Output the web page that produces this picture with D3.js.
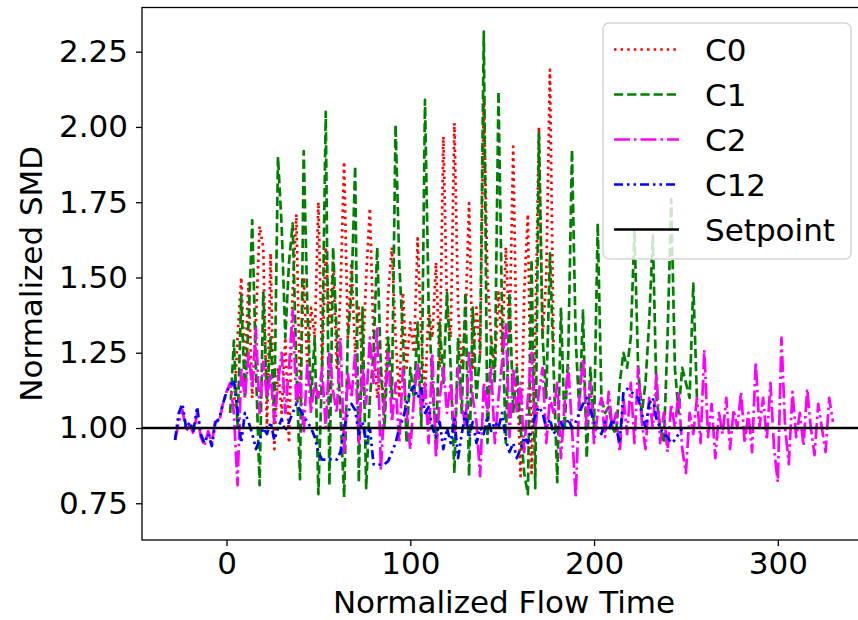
<!DOCTYPE html>
<html>
<head>
<meta charset="utf-8">
<script src="https://cdn.jsdelivr.net/npm/d3@7"></script>
<style>
  body { margin: 0; background: #fff; }
  text { font-family: 'DejaVu Sans', sans-serif; }
</style>
</head>
<body>
<div id="chart-area"></div>
<script>
// Series data (time starts at t0 and advances by step for each value)
const c0Start = 4, c0Step = 2;
const c0Values = [1.05, 1.30, 1.50, 1.20, 1.48, 1.10, 1.35, 1.67, 1.60, 1.00, 1.58, 0.93, 1.20, 1.05, 1.30, 0.95,
  1.45, 1.71, 1.10, 1.50, 1.20, 1.40, 1.30, 1.75, 1.20, 1.60, 1.35, 1.55, 1.20, 1.45, 1.885, 1.30,
  1.55, 1.25, 1.40, 1.20, 1.50, 1.73, 1.30, 1.10, 1.20, 1.05, 1.45, 1.60, 1.30, 1.10, 1.45, 1.20,
  1.35, 1.25, 1.63, 1.30, 1.10, 1.40, 1.30, 1.55, 1.20, 1.968, 1.40, 1.30, 2.013, 1.40, 1.20, 1.35,
  1.747, 1.20, 1.40, 1.25, 2.10, 1.50, 1.30, 1.20, 1.45, 1.25, 1.60, 1.30, 1.935, 1.20, 0.84, 1.45,
  1.71, 0.85, 1.30, 2.00, 1.30, 1.50, 2.19, 1.25];

const c1Start = 2, c1Step = 2;
const c1Values = [1.05, 1.29, 1.00, 1.44, 1.10, 1.35, 1.69, 1.20, 0.81, 1.45, 1.10, 1.30, 1.05, 1.90, 1.67, 1.30,
  1.55, 1.68, 1.20, 0.83, 1.92, 1.40, 1.10, 1.30, 0.78, 1.20, 2.05, 0.81, 1.60, 1.30, 1.05, 0.77,
  1.30, 1.45, 1.87, 0.82, 1.40, 0.80, 1.10, 1.25, 1.60, 1.20, 1.00, 1.30, 1.10, 2.007, 1.55, 1.30,
  0.95, 1.20, 1.10, 1.35, 1.00, 2.09, 1.40, 1.15, 0.95, 1.35, 1.15, 1.45, 1.20, 0.85, 1.30, 1.05,
  1.45, 0.84, 1.40, 1.10, 1.25, 2.317, 0.95, 1.30, 1.15, 2.118, 1.35, 0.95, 1.45, 1.05, 1.20, 1.00,
  0.85, 0.78, 1.56, 0.80, 1.98, 1.30, 1.10, 1.58, 1.20, 0.82, 1.40, 1.00, 1.25, 1.924, 1.30, 1.05,
  1.39, 0.90, 1.20, 1.00, 1.68, 1.10, 1.05, 1.07, 1.00, 0.98, 1.15, 1.25, 1.20, 1.30, 1.66, 1.20,
  1.05, 1.15, 1.35, 1.64, 1.10, 1.00, 0.95, 1.30, 1.76, 1.20, 1.05, 1.20, 1.15, 1.10, 1.48, 1.10];

const c2Start = -28, c2Step = 2;
const c2Values = [0.96, 1.02, 1.06, 0.99, 1.01, 0.98, 1.05, 0.97, 0.94, 0.99, 0.95, 1.03, 1.02, 1.08, 1.12,
  1.15, 1.05, 0.81, 1.20, 1.10, 1.25, 1.13, 1.33, 1.05, 1.22, 1.10, 1.18, 1.02, 1.15, 1.25, 1.05, 1.20,
  1.39, 1.08, 1.17, 0.98, 1.22, 1.05, 1.15, 1.10, 1.20, 1.00, 1.25, 1.12, 1.05, 1.30, 0.92, 1.18,
  1.10, 1.25, 0.95, 1.20, 1.08, 1.30, 1.15, 1.33, 0.86, 1.10, 1.25, 1.02, 1.15, 0.95, 1.20, 1.05,
  0.93, 1.10, 1.22, 1.05, 1.15, 0.95, 1.25, 0.90, 1.10, 1.20, 1.05, 1.15, 0.98, 1.20, 1.08, 1.00,
  1.25, 1.10, 1.02, 0.84, 1.15, 1.05, 1.20, 0.95, 1.10, 1.22, 1.35, 0.97, 1.20, 1.05, 1.15, 0.92,
  1.10, 1.25, 1.00, 1.12, 1.20, 0.95, 1.10, 1.05, 1.15, 0.90, 1.08, 1.20, 1.00, 0.77, 1.10, 1.23,
  1.00, 1.15, 0.95, 1.05, 1.10, 0.97, 1.12, 1.00, 1.05, 0.92, 1.10, 0.98, 1.15, 0.95, 1.20, 1.02,
  0.93, 1.10, 1.00, 1.18, 0.95, 1.05, 0.92, 1.08, 1.00, 1.12, 0.93, 0.85, 1.05, 0.98, 1.10, 0.95,
  1.26, 0.97, 1.08, 0.90, 1.05, 0.98, 1.10, 0.93, 1.06, 1.00, 1.12, 0.95, 1.05, 0.92, 1.22, 1.00,
  1.10, 0.96, 1.15, 0.93, 0.82, 1.30, 1.00, 0.88, 1.12, 0.97, 1.05, 0.94, 1.13, 1.00, 0.91, 1.08,
  1.00, 0.92, 1.10, 1.02];

const c12Start = -28, c12Step = 2;
const c12Values = [0.96, 1.05, 1.08, 1.00, 1.02, 0.99, 1.07, 0.98, 0.95, 0.98, 0.94, 1.02, 1.03, 1.08, 1.12,
  1.14, 1.16, 1.05, 0.95, 1.05, 1.02, 0.98, 0.93, 0.96, 1.00, 0.98, 1.02, 0.96, 1.00, 1.03, 0.99,
  1.02, 1.05, 1.08, 1.06, 1.04, 1.02, 1.00, 0.97, 0.92, 0.895, 0.895, 0.895, 0.90, 0.895, 0.92, 1.00,
  1.05, 1.08, 1.06, 0.98, 1.02, 0.95, 1.00, 0.88, 0.875, 0.88, 0.88, 0.89, 0.92, 0.95, 1.00, 1.03,
  1.08, 1.12, 1.14, 1.10, 1.13, 1.05, 1.07, 1.00, 0.97, 1.02, 0.93, 1.00, 0.95, 1.03, 0.90, 0.98,
  1.05, 0.97, 1.02, 0.95, 1.00, 0.98, 1.04, 0.99, 1.02, 1.00, 1.05, 0.96, 0.92, 0.95, 0.90, 0.93,
  0.97, 0.95, 1.00, 1.04, 1.07, 1.05, 1.00, 1.03, 0.98, 1.00, 1.02, 0.99, 1.03, 1.00, 1.02, 1.05,
  1.08, 1.10, 1.06, 1.02, 1.00, 0.98, 1.02, 0.99, 1.03, 1.00, 0.95, 1.12, 1.13, 1.12, 1.11, 1.10,
  1.05, 1.00, 1.08, 1.10, 1.03, 1.00, 0.98, 0.97, 0.95, 0.96, 0.98, 1.00];

const setpoint = 1.0;
const xTicks = [0, 100, 200, 300];
const yTicks = [0.75, 1.00, 1.25, 1.50, 1.75, 2.00, 2.25];

// Build Margin (right spine sits just past the picture edge)
const margin = { left: 142, right: -8, top: 7.5, bottom: 80 };
const fullWidth = 858, fullHeight = 620;
const width = fullWidth - margin.left - margin.right;
const height = fullHeight - margin.top - margin.bottom;
const fontSize = 31;

const svg = d3.select('#chart-area').append('svg')
  .attr('width', fullWidth)
  .attr('height', fullHeight);

const g = svg.append('g')
  .attr('transform', 'translate(' + margin.left + ', ' + margin.top + ')');

// Scales
const x = d3.scaleLinear().domain([-46, 348]).range([0, width]);
const y = d3.scaleLinear().domain([0.628, 2.3967]).range([height, 0]);

g.append('clipPath').attr('id', 'plot-clip')
  .append('rect').attr('width', width).attr('height', height);

// Series config
const series = [
  { name: 'C0', start: c0Start, step: c0Step, values: c0Values, color: '#ff0000', dash: '2.5,4.1' },
  { name: 'C1', start: c1Start, step: c1Step, values: c1Values, color: '#008000', dash: '9.2,4' },
  { name: 'C2', start: c2Start, step: c2Step, values: c2Values, color: '#ff00ff', dash: '16,4,2.5,4' },
  { name: 'C12', start: c12Start, step: c12Step, values: c12Values, color: '#0000ff', dash: '9,4,2.5,4,2.5,4' }
];

const line = d3.line()
  .x((d) => x(d.t))
  .y((d) => y(d.v));

const plot = g.append('g').attr('clip-path', 'url(#plot-clip)');

series.forEach((s) => {
  const pts = s.values.map((v, i) => ({ t: s.start + i * s.step, v: v }));
  plot.append('path')
    .datum(pts)
    .attr('d', line)
    .attr('fill', 'none')
    .attr('stroke', s.color)
    .attr('stroke-width', 2.7)
    .attr('stroke-dasharray', s.dash)
    .attr('stroke-linejoin', 'round');
});

// Setpoint (axhline)
plot.append('line')
  .attr('x1', 0).attr('x2', width)
  .attr('y1', y(setpoint)).attr('y2', y(setpoint))
  .attr('stroke', '#000')
  .attr('stroke-width', 2.5);

// Axes
const xAxisCall = d3.axisBottom(x).tickValues(xTicks).tickSize(6).tickPadding(6).tickFormat(d3.format('d'));
const xAxis = g.append('g')
  .attr('class', 'x-axis')
  .attr('transform', 'translate(0, ' + height + ')')
  .call(xAxisCall);

const yAxisCall = d3.axisLeft(y).tickValues(yTicks).tickSize(6).tickPadding(8).tickFormat(d3.format('.2f'));
const yAxis = g.append('g')
  .attr('class', 'y-axis')
  .call(yAxisCall);

[xAxis, yAxis].forEach((a) => {
  a.select('.domain').remove();
  a.selectAll('.tick line').attr('stroke', '#000').attr('stroke-width', 1.3);
  a.selectAll('.tick text')
    .attr('fill', '#000')
    .attr('font-size', fontSize + 'px')
    .attr('font-family', 'DejaVu Sans');
});

// Frame
g.append('rect')
  .attr('width', width).attr('height', height)
  .attr('fill', 'none')
  .attr('stroke', '#000')
  .attr('stroke-width', 1.3);

// X Label
g.append('text')
  .attr('x', width / 2)
  .attr('y', height + 73)
  .attr('font-size', fontSize + 'px')
  .attr('text-anchor', 'middle')
  .text('Normalized Flow Time');

// Y Label
g.append('text')
  .attr('x', -(height / 2))
  .attr('y', -100)
  .attr('font-size', fontSize + 'px')
  .attr('transform', 'rotate(-90)')
  .attr('text-anchor', 'middle')
  .text('Normalized SMD');

// Legend
const legendItems = series.map((s) => ({ name: s.name, color: s.color, dash: s.dash }))
  .concat([{ name: 'Setpoint', color: '#000', dash: null }]);

const legend = svg.append('g').attr('class', 'legend');
legend.append('rect')
  .attr('x', 603).attr('y', 23)
  .attr('width', 248).attr('height', 236)
  .attr('rx', 6).attr('ry', 6)
  .attr('fill', 'rgba(255,255,255,0.8)')
  .attr('stroke', '#d6d6d6')
  .attr('stroke-width', 1.5);

legendItems.forEach((d, i) => {
  const cy = 49.5 + i * 45;
  legend.append('line')
    .attr('x1', 614).attr('x2', 679)
    .attr('y1', cy).attr('y2', cy)
    .attr('stroke', d.color)
    .attr('stroke-width', 2.5)
    .attr('stroke-dasharray', d.dash);
  legend.append('text')
    .attr('x', 705)
    .attr('y', cy + 11)
    .attr('font-size', fontSize + 'px')
    .text(d.name);
});
</script>
</body>
</html>
